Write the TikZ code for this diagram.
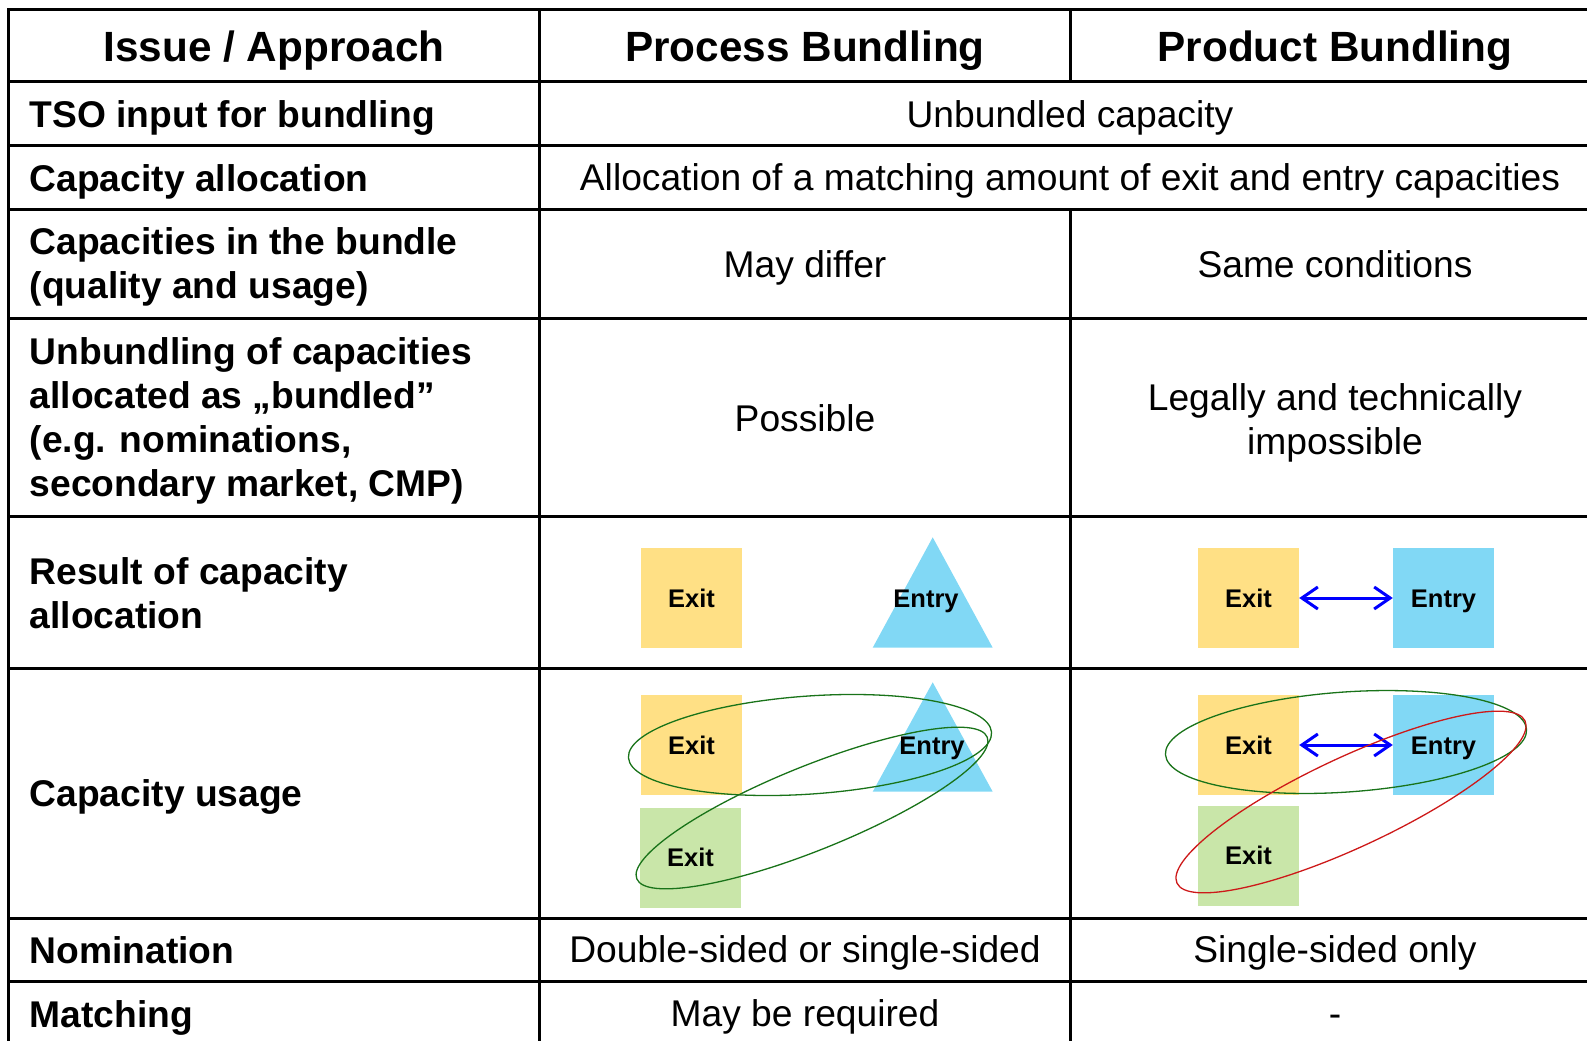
\documentclass[tikz,border=0pt]{standalone}
\usepackage{fontspec}
\setmainfont{Liberation Sans}
\usetikzlibrary{arrows.meta}
\definecolor{exityellow}{HTML}{FFE085}
\definecolor{entryblue}{HTML}{81D8F5}
\definecolor{exitgreen}{HTML}{C9E6A9}
\definecolor{ringgreen}{RGB}{25,115,25}
\definecolor{ringred}{RGB}{205,25,25}
\tikzset{
	rule/.style={line width=3pt},
	head/.style={font=\bfseries\fontsize{42.3}{50}\selectfont, anchor=base, inner sep=0},
	issue/.style={font=\bfseries\fontsize{37.2}{44}\selectfont, anchor=base west, align=left, inner sep=0},
	cell/.style={font=\fontsize{37.2}{43.5}\selectfont, anchor=base, align=center, inner sep=0},
	pointlabel/.style={font=\bfseries\fontsize{25.5}{30}\selectfont, inner sep=0, text height=18.3pt, text depth=0pt},
	exitbox/.style={pointlabel, fill=exityellow, minimum width=101pt, minimum height=100pt},
	entrybox/.style={pointlabel, fill=entryblue, minimum width=101pt, minimum height=100pt},
	usedbox/.style={pointlabel, fill=exitgreen, minimum width=101pt, minimum height=100pt},
	link/.style={blue, line width=3pt, {Straight Barb[length=16pt,width=22pt]}-{Straight Barb[length=16pt,width=22pt]}},
	ring/.style={line width=1.3pt}
}
\begin{document}
\begin{tikzpicture}[x=1pt, y=-1pt]
	\useasboundingbox (0,0) rectangle (1587,1041);
	\clip (0,0) rectangle (1587,1041);
	% table
	\draw[rule] (8,10) rectangle (1600,1047);
	\foreach \y in {81,145,209.5,318,516,668,918,981}
		\draw[rule] (8,\y) -- (1600,\y);
	\draw[rule] (539.5,10) -- (539.5,1047) (1070,10) -- (1070,81) (1070,209.5) -- (1070,1047);
	% header
	\node[head] (hIssue) at (274,62) {Issue / Approach};
	\node[head] (hProcess) at (805,62) {Process Bundling};
	\node[head] (hProduct) at (1335,62) {Product Bundling};
	% issues (base = last line)
	\node[issue] (iTso) at (29.5,127) {TSO input for bundling};
	\node[issue] (iAlloc) at (29.5,191) {Capacity allocation};
	\node[issue] (iQuality) at (29.5,298) {Capacities in the bundle\\(quality and usage)};
	\node[issue] (iUnbundle) at (29.5,496) {Unbundling of capacities\\allocated as „bundled”\\(e.g. nominations,\\secondary market, CMP)};
	\node[issue] (iResult) at (29.5,628) {Result of capacity\\allocation};
	\node[issue] (iUsage) at (29.5,806) {Capacity usage};
	\node[issue] (iNom) at (29.5,963) {Nomination};
	\node[issue] (iMatch) at (29.5,1027) {Matching};
	% answers
	\node[cell] (cTso) at (1070,127) {Unbundled capacity};
	\node[cell] (cAlloc) at (1070,190) {Allocation of a matching amount of exit and entry capacities};
	\node[cell] (pQuality) at (805,277) {May differ};
	\node[cell] (qQuality) at (1335,277) {Same conditions};
	\node[cell] (pUnbundle) at (805,431) {Possible};
	\node[cell] (qUnbundle) at (1335,454) {Legally and technically\\impossible};
	\node[cell] (pNom) at (805,962) {Double-sided or single-sided};
	\node[cell] (qNom) at (1335,962) {Single-sided only};
	\node[cell] (pMatch) at (805,1026) {May be required};
	\node[cell] (qMatch) at (1335,1026) {-};
	% process bundling
	\node[exitbox] (exP) at (691.5,598) {Exit};
	\fill[entryblue] (872.7,647.7) -- (932.7,537.3) -- (992.7,647.7) -- cycle;
	\node[pointlabel] (enP) at (926,598) {Entry};
	\node[exitbox] (exPU) at (691.5,745) {Exit};
	\node[usedbox] (exPV) at (690.5,857.7) {Exit};
	\fill[entryblue] (872.7,791.7) -- (932.7,682.3) -- (992.7,791.7) -- cycle;
	\node[pointlabel] (enPU) at (932,745) {Entry};
	\draw[ring, ringgreen, rotate around={4:(810,745)}] (810,745) ellipse (182 and 49);
	\draw[ring, ringgreen, rotate around={22:(812,808)}] (812,808) ellipse (189 and 42);
	% product bundling
	\node[exitbox] (exQ) at (1248.5,598) {Exit};
	\node[entrybox] (enQ) at (1443.5,598) {Entry};
	\draw[link] (exQ) -- (enQ);
	\node[exitbox] (exQU) at (1248.5,745) {Exit};
	\node[entrybox] (enQU) at (1443.5,745) {Entry};
	\node[usedbox] (exQV) at (1248.5,855.7) {Exit};
	\draw[link] (exQU) -- (enQU);
	\draw[ring, ringgreen, rotate around={4:(1346,742)}] (1346,742) ellipse (181 and 50);
	\draw[ring, ringred, rotate around={25:(1351,802)}] (1351,802) ellipse (192 and 45);
\end{tikzpicture}
\end{document}
